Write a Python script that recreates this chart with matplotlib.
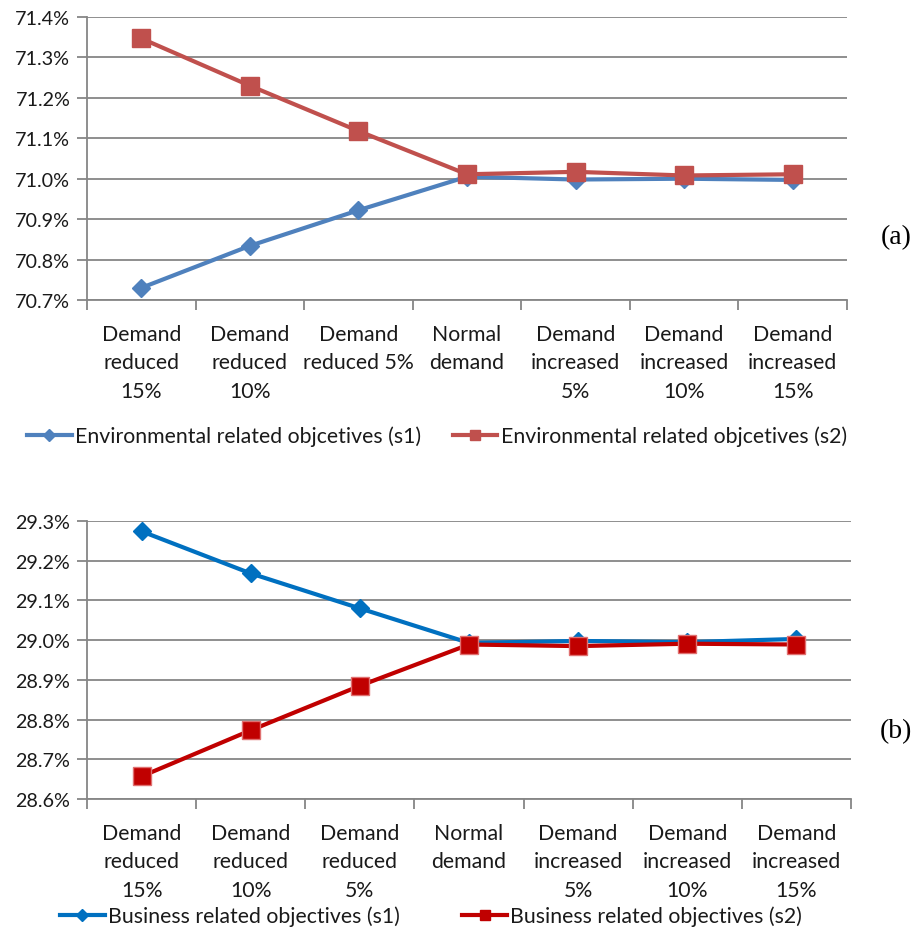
import matplotlib
matplotlib.use("Agg")
import matplotlib.pyplot as plt
from matplotlib.ticker import FuncFormatter, FixedLocator
from matplotlib.lines import Line2D
import numpy as np

# Scenario labels for each panel
categories_a = ["Demand\nreduced\n15%", "Demand\nreduced\n10%", "Demand\nreduced 5%",
                "Normal\ndemand", "Demand\nincreased\n5%", "Demand\nincreased\n10%",
                "Demand\nincreased\n15%"]
categories_b = ["Demand\nreduced\n15%", "Demand\nreduced\n10%", "Demand\nreduced\n5%",
                "Normal\ndemand", "Demand\nincreased\n5%", "Demand\nincreased\n10%",
                "Demand\nincreased\n15%"]

# Share of objectives (%)
env_s1 = [70.730, 70.834, 70.922, 71.005, 70.998, 71.000, 70.997]
env_s2 = [71.347, 71.230, 71.118, 71.011, 71.017, 71.008, 71.011]
bus_s1 = [29.274, 29.168, 29.080, 28.993, 28.998, 28.995, 29.003]
bus_s2 = [28.657, 28.773, 28.885, 28.989, 28.985, 28.991, 28.989]

env_labels = ["Environmental related objcetives (s1)", "Environmental related objcetives (s2)"]
bus_labels = ["Business related objectives (s1)", "Business related objectives (s2)"]

env_ticks = [70.7, 70.8, 70.9, 71.0, 71.1, 71.2, 71.3, 71.4]
bus_ticks = [28.6, 28.7, 28.8, 28.9, 29.0, 29.1, 29.2, 29.3]

plt.rcParams['font.family'] = ['Lato', 'DejaVu Sans']

W, H = 916, 945
fig = plt.figure(figsize=(W / 100, H / 100), dpi=100)

GRID = "#868686"
TXT = "#1a1a1a"
FS = 15.3      # category and legend text
FS_Y = 14.2    # y tick labels


def panel(rect, cats, s1, s2, ticks, c1, c2, e2, labels, legend_y, legend_x,
          col_space, tag, tag_y):
    l, t, r, b = rect
    ax = fig.add_axes([l / W, 1 - b / H, (r - l) / W, (b - t) / H])
    x = np.arange(len(cats))
    ax.plot(x, s1, color=c1, lw=3.0, marker="D", ms=9.5, mfc=c1, mec=c1,
            zorder=3, solid_capstyle="round")
    ax.plot(x, s2, color=c2, lw=3.0, marker="s", ms=13, mfc=c2, mec=e2, mew=1.0,
            zorder=4, solid_capstyle="round")
    ax.set_xlim(-0.5, len(cats) - 0.5)
    ax.set_ylim(ticks[0], ticks[-1])
    ax.yaxis.set_major_locator(FixedLocator(ticks))
    ax.yaxis.set_major_formatter(FuncFormatter(lambda v, p: f"{v:.1f}%"))
    ax.grid(axis="y", color=GRID, lw=1.3)
    ax.set_axisbelow(True)
    for s in ["top", "right"]:
        ax.spines[s].set_visible(False)
    for s in ["left", "bottom"]:
        ax.spines[s].set_color(GRID)
        ax.spines[s].set_linewidth(1.3)
    ax.set_xticks(x)
    ax.set_xticklabels(cats, fontsize=FS, color=TXT, linespacing=1.53)
    ax.set_xticks(np.arange(len(cats) + 1) - 0.5, minor=True)
    ax.tick_params(axis="x", which="major", length=0, pad=17)
    ax.tick_params(axis="x", which="minor", length=7, width=1.3, color=GRID)
    ax.tick_params(axis="y", length=7, width=1.3, color=GRID, labelsize=FS_Y,
                   labelcolor=TXT, pad=5)
    handles = [Line2D([], [], color=c1, lw=3.0, marker="D", ms=6.5, mfc=c1, mec=c1),
               Line2D([], [], color=c2, lw=3.0, marker="s", ms=7.5, mfc=c2, mec=c2)]
    fig.legend(handles, labels, loc="center left",
               bbox_to_anchor=(legend_x / W, 1 - legend_y / H),
               ncol=2, frameon=False, fontsize=FS, handlelength=2.1,
               handletextpad=0.15, columnspacing=col_space, borderpad=0,
               borderaxespad=0, labelcolor=TXT)
    fig.text(896 / W, 1 - tag_y / H, tag, family="Liberation Serif", fontsize=20,
             ha="center", va="center", color="black")
    return ax


panel((87, 18, 847, 301), categories_a, env_s1, env_s2, env_ticks,
      "#4F81BD", "#C0504D", "#C0504D", env_labels, 437, 27, 1.5, "(a)", 238)
panel((87, 522, 851, 800), categories_b, bus_s1, bus_s2, bus_ticks,
      "#0070C0", "#C00000", "#E07070", bus_labels, 917, 60, 2.95, "(b)", 732)

fig.savefig("out.png", dpi=100)
